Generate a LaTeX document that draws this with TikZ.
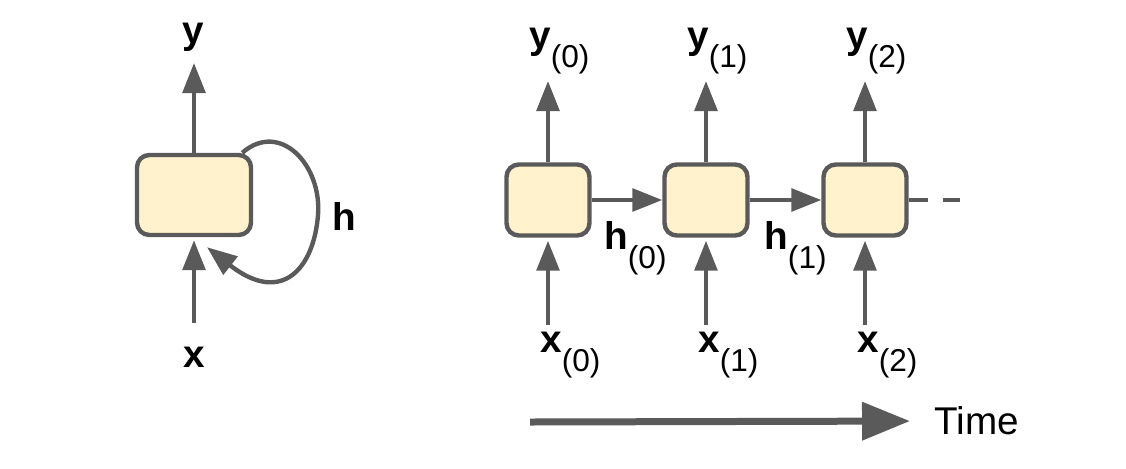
\documentclass[tikz,border=0pt]{standalone}
\usepackage{fontspec}
\setmainfont{Liberation Sans}
\usepackage{xcolor}
\definecolor{cellbg}{HTML}{FFF2CC}
\definecolor{cellbd}{HTML}{5A5A5A}
\usetikzlibrary{positioning, arrows.meta, calc}

\newcommand{\vlab}[2]{\textbf{#1}\raisebox{-11pt}{\fontsize{18}{18}\selectfont(#2)}}

\begin{document}
\begin{tikzpicture}[
  x=0.02cm, y=-0.02cm,
  cell/.style={draw=cellbd, fill=cellbg, line width=2.5pt, rounded corners=7pt,
               minimum width=2.28cm, minimum height=1.6cm},
  step cell/.style={cell, minimum width=1.66cm, minimum height=1.42cm},
  line/.style={draw=cellbd, line width=2.5pt},
  arrow/.style={line, -{Triangle[length=0.6cm, width=0.45cm]}},
  timearrow/.style={draw=cellbd, line width=0.14cm, -{Triangle[length=0.96cm, width=0.74cm]}},
  lbl/.style={font=\fontsize{22}{26}\selectfont, inner sep=0pt},
]
\useasboundingbox (0,0) rectangle (1126,468);

% --- Folded RNN ---
\node[cell] (rnn) at (194,195) {};
\node[lbl] (y) at (193,37) {\textbf{y}};
\node[lbl] (x) at (194,357) {\textbf{x}};
\node[lbl] (h) at (344,216) {\textbf{h}};
\coordinate (ytip) at (194,63);
\coordinate (xfoot) at (194,323);
\draw[arrow] (rnn) -- (ytip);
\draw[arrow] (xfoot) -- ([yshift=-0.06cm]rnn.south);
\draw[arrow] ([xshift=-0.22cm]rnn.north east) .. controls (280,120) and (322,165) .. (318,215)
  .. controls (314,268) and (282,306) .. ([xshift=0.26cm, yshift=-0.2cm]rnn.south);

% --- Unrolled through time ---
\foreach \i/\x in {0/548, 1/706, 2/865} {
  \node[step cell] (c\i) at (\x,200) {};
  \coordinate (yt\i) at (\x,81);
  \coordinate (xb\i) at (\x,325);
  \draw[arrow] (c\i) -- (yt\i);
  \draw[arrow] (xb\i) -- ([yshift=-0.06cm]c\i.south);
  \node[lbl, anchor=base west] (y\i) at (\x-19,48) {\vlab{y}{\i}};
  \node[lbl, anchor=base west] (x\i) at (\x-8,352) {\vlab{x}{\i}};
}
\draw[arrow] (c0) -- (c1);
\draw[arrow] (c1) -- (c2);
\node[lbl, anchor=base west] (h0) at (604,249) {\vlab{h}{0}};
\node[lbl, anchor=base west] (h1) at (764,249) {\vlab{h}{1}};
\coordinate (tail) at (960,200);
\draw[line, dash pattern=on 0.38cm off 0.3cm] (c2) -- (tail);

% Time axis
\coordinate (t0) at (530,422);
\node[font=\fontsize{22}{26}\selectfont, inner sep=0pt, anchor=west] (time) at (934,421) {Time};
\draw[timearrow, shorten >=0.48cm] (t0) -- (time.west);
\end{tikzpicture}
\end{document}
